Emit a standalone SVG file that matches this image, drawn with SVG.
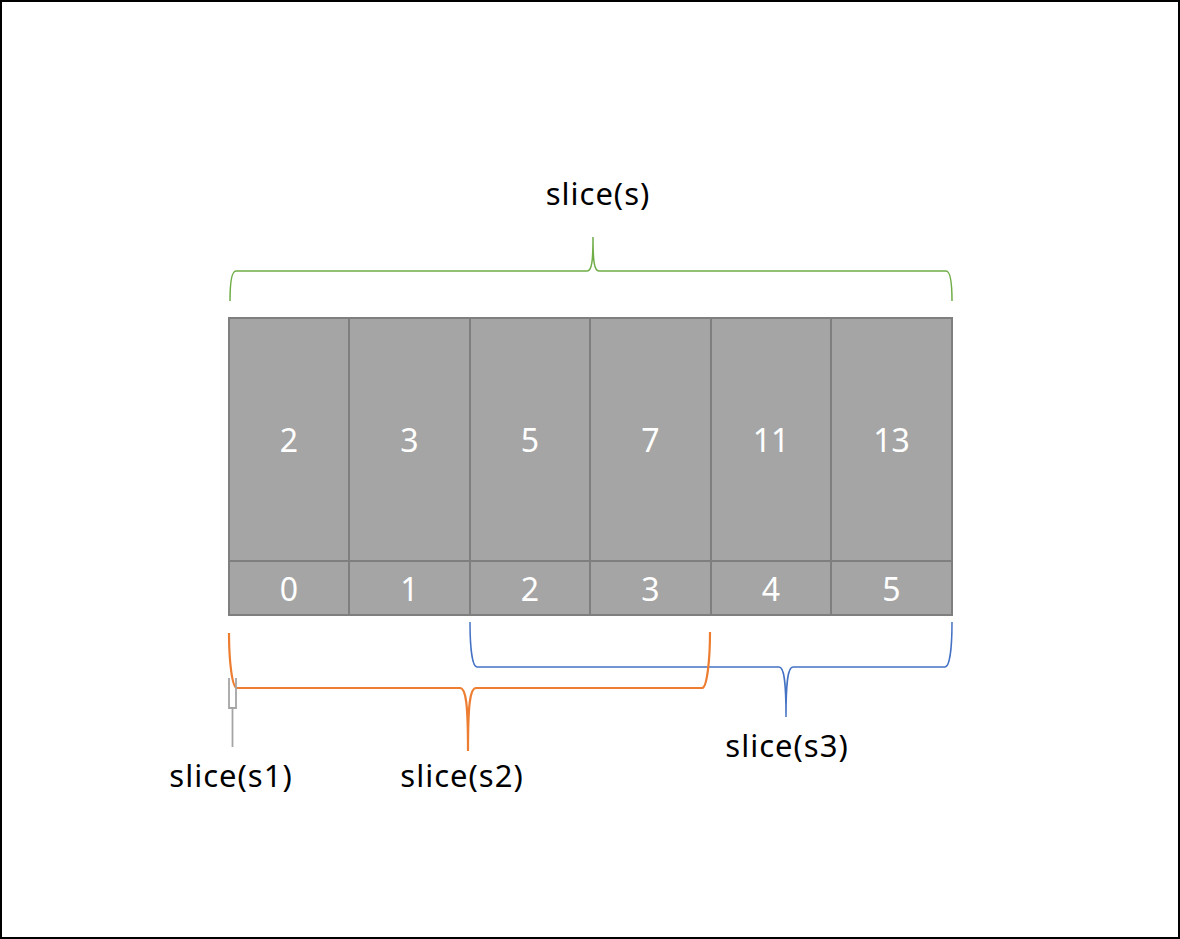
<svg xmlns="http://www.w3.org/2000/svg" width="1180" height="939" viewBox="0 0 1180 939">
<style>
.cell{fill:#a5a5a5;stroke:#7f7f7f;stroke-width:2}
.num{font-family:"Noto Sans","Liberation Sans",sans-serif;font-size:32px;fill:#ffffff;text-anchor:middle}
.lbl{font-family:"Noto Sans","Liberation Sans",sans-serif;font-size:31px;letter-spacing:1px;fill:#000000;text-anchor:middle}
.br{fill:none}
</style>
<rect x="1" y="1" width="1178" height="937" fill="#ffffff" stroke="#000000" stroke-width="2"/>
<g id="cells">
<g id="c0"><rect class="cell" x="229" y="318" width="120" height="243"/><rect class="cell" x="229" y="561" width="120" height="54"/><text class="num" x="289" y="452">2</text><text class="num" x="289" y="601">0</text></g>
<g id="c1"><rect class="cell" x="349" y="318" width="121" height="243"/><rect class="cell" x="349" y="561" width="121" height="54"/><text class="num" x="409.5" y="452">3</text><text class="num" x="409.5" y="601">1</text></g>
<g id="c2"><rect class="cell" x="470" y="318" width="120" height="243"/><rect class="cell" x="470" y="561" width="120" height="54"/><text class="num" x="530" y="452">5</text><text class="num" x="530" y="601">2</text></g>
<g id="c3"><rect class="cell" x="590" y="318" width="121" height="243"/><rect class="cell" x="590" y="561" width="121" height="54"/><text class="num" x="650.5" y="452">7</text><text class="num" x="650.5" y="601">3</text></g>
<g id="c4"><rect class="cell" x="711" y="318" width="120" height="243"/><rect class="cell" x="711" y="561" width="120" height="54"/><text class="num" x="771" y="452">11</text><text class="num" x="771" y="601">4</text></g>
<g id="c5"><rect class="cell" x="831" y="318" width="121" height="243"/><rect class="cell" x="831" y="561" width="121" height="54"/><text class="num" x="891.5" y="452">13</text><text class="num" x="891.5" y="601">5</text></g>
</g>
<g id="connectors">
<path id="brace-s" class="br" stroke="#70ad47" stroke-width="1.5" d="M230,301 C230,285 231,271 236,271 L587,271 C592,271 593,260 593,237 C593,260 594,271 599,271 L946,271 C951,271 952,285 952,301"/>
<path id="brace-s3" class="br" stroke="#4472c4" stroke-width="1.5" d="M470,622 C470,645 472,667 477,667 L779,667 C784,667 786,680 786,717 C786,680 788,667 793,667 L945,667 C950,667 952,645 952,622"/>
<path id="brace-s2" class="br" stroke="#ed7d31" stroke-width="2.2" d="M229,633 C229,660 232,688 237,688 L460,688 C466,688 468,705 468,751 C468,705 470,688 476,688 L702,688 C707,688 710,660 710,632"/>
<path id="brace-s1" class="br" stroke="#a5a5a5" stroke-width="1.8" d="M229,678 L229,708 L236,708 L236,678 M232.5,708 L232.5,747"/>
</g>
<g id="labels">
<text class="lbl" x="598" y="205">slice(s)</text>
<text class="lbl" x="231" y="787">slice(s1)</text>
<text class="lbl" x="462" y="787">slice(s2)</text>
<text class="lbl" x="787" y="757">slice(s3)</text>
</g>
</svg>
